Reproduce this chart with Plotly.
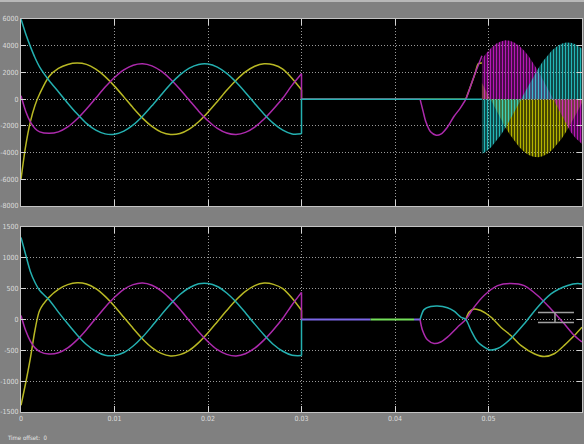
import plotly.graph_objects as go

# ---------------- data ----------------
# segment 1 (0 .. 0.03 s), shared time stamps
T1 = [0.0, 0.0005, 0.001, 0.0015, 0.002, 0.003, 0.004, 0.005, 0.006, 0.007,
      0.008, 0.009, 0.010, 0.011, 0.012, 0.013, 0.014, 0.015, 0.016, 0.017,
      0.018, 0.019, 0.020, 0.021, 0.022, 0.023, 0.024, 0.025, 0.026, 0.027,
      0.028, 0.029, 0.030]

TOP_MAG_1 = [250, -900, -1700, -2200, -2450, -2560, -2450, -2080, -1490, -740,
             80, 900, 1620, 2190, 2540, 2650, 2490, 2090, 1490, 740,
             -80, -900, -1620, -2190, -2540, -2650, -2490, -2090, -1490, -740,
             80, 1050, 1900]
TOP_CYA_1 = [6000, 4900, 3950, 3100, 2400, 1400, 560, -300, -1100, -1815,
             -2320, -2600, -2630, -2400, -1930, -1280, -500, 330, 1130, 1815,
             2320, 2600, 2630, 2400, 1930, 1280, 500, -330, -1130, -1815,
             -2320, -2610, -2600]
TOP_YEL_1 = [-6000, -3500, -1700, -450, 400, 1700, 2300, 2600, 2700, 2600,
             2240, 1690, 975, 170, -660, -1420, -2040, -2465, -2645, -2570,
             -2240, -1690, -975, -170, 660, 1420, 2040, 2465, 2645, 2570,
             2240, 1550, 700]

BOT_MAG_1 = [65, -180, -350, -460, -520, -560, -540, -460, -330, -165,
             20, 200, 360, 490, 565, 590, 555, 465, 330, 165,
             -20, -200, -360, -490, -565, -590, -555, -465, -330, -165,
             20, 240, 440]
BOT_CYA_1 = [1330, 1050, 780, 600, 470, 320, 120, -70, -250, -405,
             -515, -580, -585, -535, -430, -285, -110, 75, 250, 405,
             515, 580, 585, 535, 430, 285, 110, -75, -250, -405,
             -515, -580, -585]
BOT_YEL_1 = [-1390, -1030, -630, -170, 150, 360, 490, 565, 595, 575,
             500, 375, 215, 35, -145, -315, -455, -550, -590, -570,
             -500, -375, -215, -35, 145, 315, 455, 550, 590, 570,
             500, 345, 150]

# top panel, after the zero interval
TOP_MAG_2_T = [0.04268, 0.0430, 0.0433, 0.0438, 0.0444, 0.0449, 0.0456, 0.0463,
               0.0470, 0.04757, 0.0481, 0.0486, 0.0490, 0.0493]
TOP_MAG_2 = [0, -900, -1700, -2450, -2700, -2620, -2100, -1300,
             -650, 0, 1000, 2000, 2700, 3250]
TOP_YEL_2_T = [0.04757, 0.0481, 0.0486, 0.0489, 0.0493]
TOP_YEL_2 = [0, 1000, 2000, 2650, 2700]

# top panel, switching region envelopes
ENV_T = [0.0493, 0.0498, 0.0503, 0.0508, 0.0513, 0.0518, 0.0523, 0.0528,
         0.0533, 0.0538, 0.0543, 0.0548, 0.0553, 0.0558, 0.0563, 0.0568,
         0.0573, 0.0578, 0.0583, 0.0588, 0.0593, 0.0598, 0.0600]
ENV_MAG = [3010, 3480, 3850, 4140, 4320, 4400, 4365, 4225, 3980, 3640, 3205,
           2695, 2120, 1490, 825, 140, -550, -1230, -1875, -2475, -2900,
           -3250, -3350]
ENV_YEL = [1210, 545, -140, -815, -1470, -2100, -2665, -3170, -3600, -3940,
           -4175, -4315, -4350, -4270, -4095, -3810, -3435, -2980, -2445,
           -1855, -1215, -545, -275]
ENV_CYA = [-4115, -3900, -3590, -3190, -2710, -2165, -1565, -925, -265, 400,
           1055, 1690, 2275, 2810, 3275, 3660, 3950, 4150, 4240, 4230, 4115,
           3900, 3790]

# bottom panel, after the zero interval
BOT_CYA_2_T = [0.04268, 0.04310, 0.04382, 0.04454, 0.04561, 0.04632, 0.04704,
               0.04757, 0.04811, 0.04883, 0.05007, 0.05097, 0.05239, 0.05382,
               0.05525, 0.05668, 0.05847, 0.05954, 0.0600]
BOT_CYA_2 = [0, 160, 210, 220, 190, 135, 40, 0, -170, -360, -490, -470, -310,
             -70, 200, 415, 550, 585, 575]
BOT_MAG_2_T = [0.04268, 0.04293, 0.04347, 0.04418, 0.04489, 0.04561, 0.04668,
               0.04757, 0.04846, 0.04953, 0.05097, 0.05239, 0.05382, 0.05525,
               0.05668, 0.05810, 0.05918, 0.0600]
BOT_MAG_2 = [0, -170, -330, -390, -365, -285, -125, 0, 200, 390, 550, 585, 550,
             390, 170, -70, -260, -365]
BOT_YEL_2_T = [0.04757, 0.04793, 0.04846, 0.04918, 0.05025, 0.05132, 0.05239,
               0.05346, 0.05489, 0.05596, 0.05703, 0.05810, 0.05918, 0.0600]
BOT_YEL_2 = [0, 120, 170, 145, 40, -125, -260, -420, -555, -600, -555, -420,
             -260, -125]

# bottom panel zero interval pieces (start times; colours alternate)
BOT_FLAT_T = [0.030, 0.03739, 0.04204, 0.04268]

# stray cursor marker in the bottom panel
MARKER_T = [0.05529, 0.05914]
MARKER_MID_T = 0.05711
MARKER_V = [113, -48]

X_TICKS = [0, 0.01, 0.02, 0.03, 0.04, 0.05, 0.06]
X_TEXT = ['0', '0.01', '0.02', '0.03', '0.04', '0.05', '0.06']
TOP_Y_TICKS = [6000, 4000, 2000, 0, -2000, -4000, -6000, -8000]
BOT_Y_TICKS = [1500, 1000, 500, 0, -500, -1000, -1500]

# ---------------- styling ----------------
YEL = '#b8b824'
MAG = '#ac2aac'
CYA = '#24b0b0'
PURPLE = '#7a66e6'
GREEN = '#74e05a'
FONT = 'DejaVu Sans Condensed, Liberation Sans Narrow, DejaVu Sans, sans-serif'

fig = go.Figure()


def add_line(x, y, color, xa, ya, shape='spline', width=1.5):
    fig.add_trace(go.Scatter(x=x, y=y, mode='lines',
                             line=dict(color=color, width=width, shape=shape,
                                       smoothing=0.8),
                             xaxis=xa, yaxis=ya, hoverinfo='skip',
                             showlegend=False))


def add_switching(x, y, color):
    fig.add_trace(go.Scatter(x=x, y=y, mode='lines', fill='tozeroy',
                             line=dict(width=0, color='rgba(0,0,0,0)'),
                             fillcolor='rgba(0,0,0,0)',
                             fillpattern=dict(shape='|', size=3, solidity=0.6,
                                              fgcolor=color, fgopacity=0.85,
                                              bgcolor='rgba(0,0,0,0)'),
                             xaxis='x', yaxis='y', hoverinfo='skip',
                             showlegend=False))


jt = T1[-1]
# ---- top panel ----
add_line(T1, TOP_YEL_1, YEL, 'x', 'y')
add_line(T1, TOP_MAG_1, MAG, 'x', 'y')
add_line(T1, TOP_CYA_1, CYA, 'x', 'y')
add_line([jt, jt, TOP_YEL_2_T[0]], [TOP_YEL_1[-1], 0, 0], YEL, 'x', 'y', 'linear')
add_line([jt, jt, TOP_MAG_2_T[0]], [TOP_MAG_1[-1], 0, 0], MAG, 'x', 'y', 'linear')
add_line(TOP_YEL_2_T, TOP_YEL_2, YEL, 'x', 'y')
add_line(TOP_MAG_2_T, TOP_MAG_2, MAG, 'x', 'y')
add_line([jt, jt, ENV_T[0]], [TOP_CYA_1[-1], 0, 0], CYA, 'x', 'y', 'linear')
add_switching(ENV_T, ENV_YEL, '#d2d200')
add_switching(ENV_T, ENV_MAG, '#d61cd6')
add_switching(ENV_T, ENV_CYA, '#2ad6d6')

# ---- bottom panel ----
add_line(T1, BOT_YEL_1, YEL, 'x2', 'y2')
add_line(T1, BOT_MAG_1, MAG, 'x2', 'y2')
add_line(T1, BOT_CYA_1, CYA, 'x2', 'y2')
add_line([jt, jt], [BOT_YEL_1[-1], 0], YEL, 'x2', 'y2', 'linear')
add_line([jt, jt], [BOT_MAG_1[-1], 0], MAG, 'x2', 'y2', 'linear')
add_line([jt, jt], [BOT_CYA_1[-1], 0], CYA, 'x2', 'y2', 'linear')
flat_cols = [PURPLE, GREEN, PURPLE]
for i in range(3):
    add_line([BOT_FLAT_T[i], BOT_FLAT_T[i + 1]], [0, 0], flat_cols[i],
             'x2', 'y2', 'linear', 2)
add_line(BOT_YEL_2_T, BOT_YEL_2, YEL, 'x2', 'y2')
add_line(BOT_MAG_2_T, BOT_MAG_2, MAG, 'x2', 'y2')
add_line(BOT_CYA_2_T, BOT_CYA_2, CYA, 'x2', 'y2')

# ---------------- layout ----------------
W, H = 584, 444
ML, MR, MT, MB = 21, 2, 19, 32
ph = H - MT - MB
top_dom = [(H - MB - 206) / ph, 1]
bot_dom = [0, (H - MB - 227) / ph]

axis_common = dict(showgrid=True, gridcolor='#9a9a9a', griddash='1px,2px',
                   gridwidth=1, zeroline=False, showline=True,
                   linecolor='#c4c4c4', linewidth=1, mirror='ticks',
                   ticks='inside', tickcolor='#d4d4d4', automargin=False,
                   tickfont=dict(family=FONT, size=7, color='#dcdcdc'))

fig.update_layout(
    width=W, height=H, template='none',
    margin=dict(l=ML, r=MR, t=MT, b=MB, pad=0),
    paper_bgcolor='#808080', plot_bgcolor='#000000',
    showlegend=False,
    xaxis=dict(domain=[0, 1], anchor='y', range=[0, 0.06],
               tickvals=X_TICKS, ticktext=X_TEXT, showticklabels=False,
               ticklen=6, **axis_common),
    yaxis=dict(domain=top_dom, anchor='x', range=[-8000, 6000],
               tickvals=TOP_Y_TICKS, ticktext=[str(v) for v in TOP_Y_TICKS],
               ticklen=5, **axis_common),
    xaxis2=dict(domain=[0, 1], anchor='y2', range=[0, 0.06],
                tickvals=X_TICKS, ticktext=X_TEXT, ticklen=6,
                **axis_common),
    yaxis2=dict(domain=bot_dom, anchor='x2', range=[-1500, 1500],
                tickvals=BOT_Y_TICKS, ticktext=[str(v) for v in BOT_Y_TICKS],
                ticklen=5, **axis_common),
    annotations=[dict(text='Time offset:  0', xref='paper', yref='paper',
                      x=(5 - ML) / (W - ML - MR), y=(H - MB - 437) / ph,
                      xanchor='left', yanchor='middle', showarrow=False,
                      font=dict(family=FONT, size=6, color='#e6e6e6'))],
    shapes=[
        dict(type='rect', xref='paper', yref='paper',
             x0=-ML / (W - ML - MR), x1=1 + MR / (W - ML - MR),
             y0=1 + (MT - 2) / ph, y1=1 + MT / ph,
             fillcolor='#b8b8b8', line=dict(width=0), layer='below'),
        dict(type='line', xref='x2', yref='y2', x0=MARKER_T[0], x1=MARKER_T[1],
             y0=MARKER_V[0], y1=MARKER_V[0], line=dict(color='#a0a0a0', width=1.5)),
        dict(type='line', xref='x2', yref='y2', x0=MARKER_T[0], x1=MARKER_T[1],
             y0=MARKER_V[1], y1=MARKER_V[1], line=dict(color='#a0a0a0', width=1.5)),
        dict(type='line', xref='x2', yref='y2', x0=MARKER_MID_T, x1=MARKER_MID_T,
             y0=MARKER_V[0], y1=MARKER_V[1], line=dict(color='#a0a0a0', width=1.5)),
    ],
)

fig.write_html('out.html')
